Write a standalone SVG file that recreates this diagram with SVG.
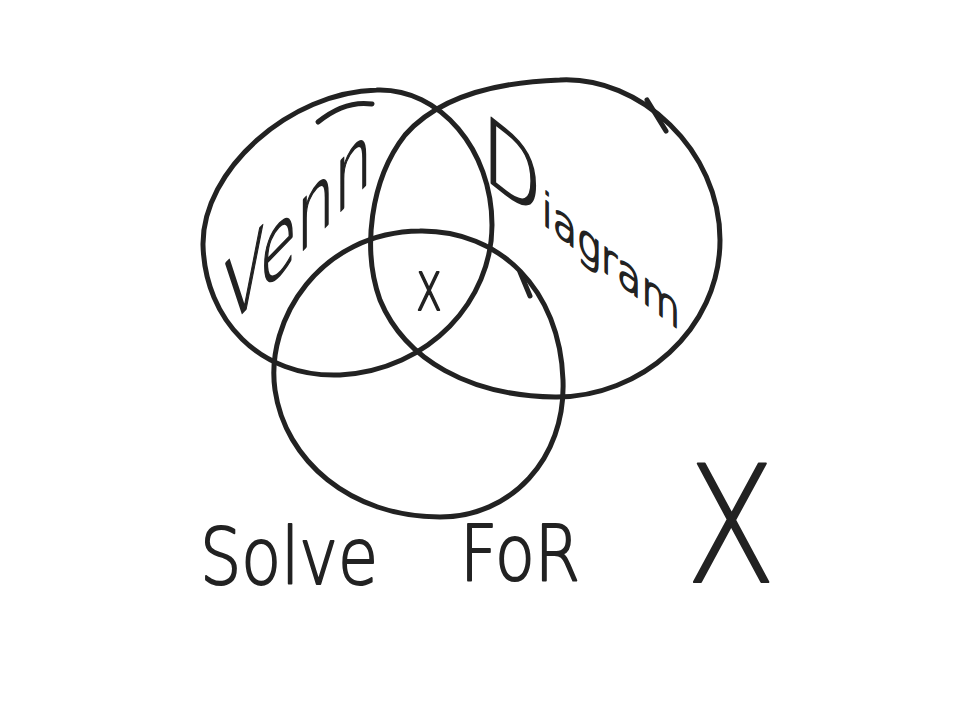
<svg xmlns="http://www.w3.org/2000/svg" width="960" height="720" viewBox="0 0 960 720">
<style>
.ink{fill:none;stroke:#222;stroke-width:5;stroke-linecap:round;stroke-linejoin:round}
.hand{font-family:"DejaVu Sans","Liberation Sans",sans-serif;font-weight:200;fill:#222;stroke:#222;stroke-width:2;stroke-linejoin:round}
</style>
<rect width="960" height="720" fill="#fff"/>
<g id="set-venn">
<path class="ink" d="M377,90 C440,88 492,150 492,225 C492,300 430,370 340,375 C260,378 205,320 203,245 C202,170 290,92 377,90"/>
<path class="ink" d="M318,122 Q345,100 372,104"/>
<g transform="translate(224,332) skewY(-46)"><text class="hand" x="0" y="0" font-size="92" textLength="148" lengthAdjust="spacingAndGlyphs">Venn</text></g>
</g>
<g id="set-diagram">
<path class="ink" d="M560,80 C640,76 720,150 720,240 C720,330 640,398 555,397 C470,396 405,360 380,300 C362,250 370,180 405,135 C440,95 500,82 560,80"/>
<path class="ink" d="M647,100 L666,131"/>
<g transform="translate(482,176) skewY(38)"><text class="hand" x="0" y="0" textLength="198" lengthAdjust="spacingAndGlyphs"><tspan font-size="90">D</tspan><tspan font-size="46">iagram</tspan></text></g>
</g>
<g id="set-bottom">
<path class="ink" d="M420,231 C500,230 560,290 563,380 C566,460 510,517 440,517 C350,517 285,460 275,390 C265,320 320,232 420,231"/>
<path class="ink" d="M520,272 L530,296"/>
</g>
<g id="intersection">
<text class="hand" x="416" y="310" font-size="70" textLength="26" lengthAdjust="spacingAndGlyphs">x</text>
</g>
<g id="caption">
<text class="hand" x="200" y="584" font-size="78" textLength="178" lengthAdjust="spacingAndGlyphs">Solve</text>
<text class="hand" x="460" y="580" font-size="76" textLength="120" lengthAdjust="spacingAndGlyphs">FoR</text>
<text class="hand" x="686" y="582" font-size="163" textLength="90" lengthAdjust="spacingAndGlyphs">X</text>
</g>
<g id="connectors"/>
</svg>
